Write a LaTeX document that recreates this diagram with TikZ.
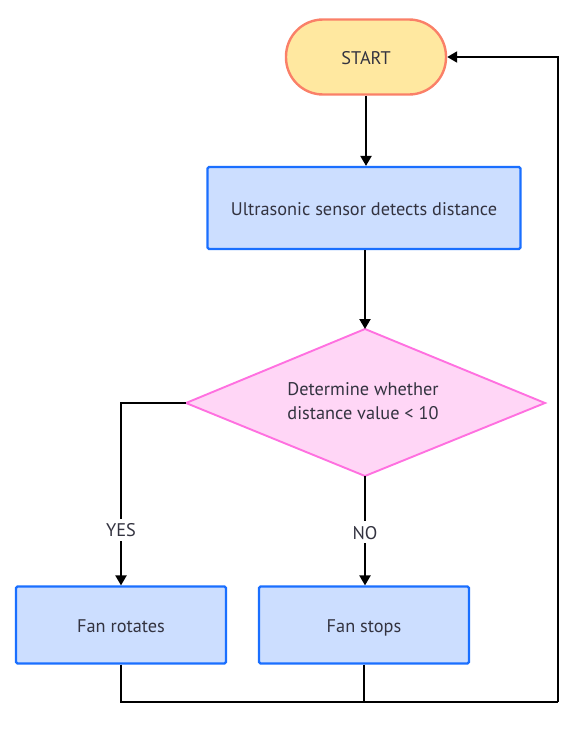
\documentclass[tikz,border=0pt]{standalone}
\usepackage{fontspec}
\setmainfont{PT Sans}
\usetikzlibrary{arrows.meta,shapes.geometric}
\definecolor{termfill}{HTML}{FFE8A0}
\definecolor{termdraw}{HTML}{FA8068}
\definecolor{boxfill}{HTML}{CCDEFF}
\definecolor{boxdraw}{HTML}{1A6FFF}
\definecolor{dfill}{HTML}{FFD6F6}
\definecolor{ddraw}{HTML}{FF70E0}
\definecolor{txt}{HTML}{333340}
\begin{document}
\begin{tikzpicture}[x=1pt,y=-1pt,
  every node/.style={font=\fontsize{18.3}{24}\selectfont, text=txt},
  fixedtext/.style={text height=14pt, text depth=0pt},
  term/.style={fixedtext, draw=termdraw, fill=termfill, line width=2.4pt, rounded corners=37pt, minimum width=160pt, minimum height=75pt, inner sep=0pt},
  procbox/.style={fixedtext, draw=boxdraw, fill=boxfill, line width=2.2pt, rounded corners=1.5pt, inner sep=0pt},
  decide/.style={draw=ddraw, fill=dfill, line width=1.9pt},
  conn/.style={draw=black, line width=2.1pt},
  arr/.style={conn, -{Triangle[length=10pt,width=11pt]}},
  lbl/.style={fixedtext, fill=white, inner sep=4pt}]
\useasboundingbox (0,0) rectangle (586,731);
\node[term] (start) at (366,57) {START};
\node[procbox, minimum width=313pt, minimum height=82pt] (sense) at (364,208) {Ultrasonic sensor detects distance};
\draw[decide] (186,403) -- (365,329) -- (545,403) -- (365,476) -- cycle;
\coordinate (dl) at (186,403);
\coordinate (dt) at (365,329);
\coordinate (db) at (365,476);
\node[align=center] (dtext) at (363,401.5) {Determine whether\\distance value < 10};
\node[procbox, minimum width=210pt, minimum height=77pt] (rot) at (121,625) {Fan rotates};
\node[procbox, minimum width=210pt, minimum height=77pt] (stop) at (364,625) {Fan stops};
\coordinate (c1) at (121,403);
\coordinate (b1) at (121,702);
\coordinate (b2) at (364,702);
\coordinate (r1) at (558,702);
\coordinate (r2) at (558,57);
\draw[arr] (start.south) -- (start.south |- sense.north);
\draw[arr] (sense.south -| dt) -- (dt);
\draw[arr] (dl) -- (c1) -- node[lbl, pos=0.695] {YES} (rot.north);
\draw[arr] (db) -- node[lbl, pos=0.515] {NO} (stop.north -| db);
\draw[conn] (rot.south) -- (b1) -- (r1);
\draw[conn] (stop.south) -- (b2);
\draw[arr] (r1) -- (r2) -- (start.east);
\end{tikzpicture}
\end{document}
